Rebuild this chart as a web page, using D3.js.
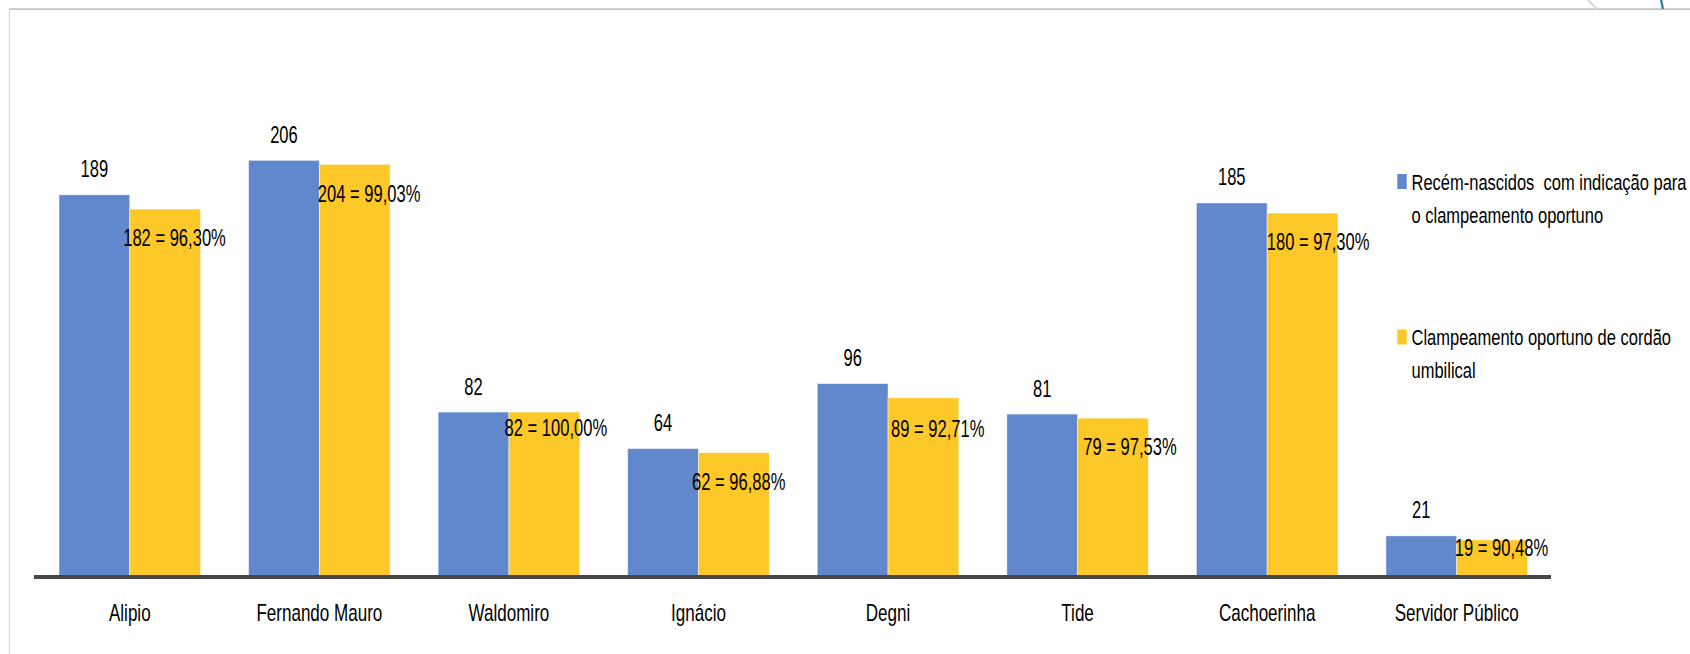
<!DOCTYPE html>
<html>
<head>
<meta charset="utf-8">
<script src="https://cdn.jsdelivr.net/npm/d3@7"></script>
<style>
  html, body { margin: 0; padding: 0; background: #fff; }
  svg { display: block; }
  text { font-family: "Liberation Sans", Arial, sans-serif; fill: #000; white-space: pre; }
</style>
</head>
<body>
<svg id="chart" width="1690" height="654"></svg>
<script>
// ---- data ----
const categories = ["Alipio", "Fernando Mauro", "Waldomiro", "Ignácio", "Degni", "Tide", "Cachoerinha", "Servidor Público"];
const indicados = [189, 206, 82, 64, 96, 81, 185, 21];
const clampeados = [182, 204, 82, 62, 89, 79, 180, 19];
const percentuais = ["96,30%", "99,03%", "100,00%", "96,88%", "92,71%", "97,53%", "97,30%", "90,48%"];
const seriesNames = ["Recém-nascidos  com indicação para o clampeamento oportuno", "Clampeamento oportuno de cordão umbilical"];
const legendLines = [["Recém-nascidos  com indicação para", "o clampeamento oportuno"], ["Clampeamento oportuno de cordão", "umbilical"]];

// ---- layout (label nudges for the yellow series, per category) ----
const yellowLabelDx = [-6.6, -1.6, -4.4, -6.5, 3, 5.6, -0.4, -2];
const yellowLabelDy = [37.2, 37.8, 24.2, 37.5, 39.2, 37.2, 37.2, 16.5];

const colors = ["#6187cc", "#ffc829"];
const svg = d3.select("#chart");

// frame decorations
svg.append("line").attr("x1", 9).attr("x2", 1690).attr("y1", 9.2).attr("y2", 9.2)
  .attr("stroke", "#c4c4c4").attr("stroke-width", 1.8);
svg.append("line").attr("x1", 9.3).attr("x2", 9.3).attr("y1", 9).attr("y2", 654)
  .attr("stroke", "#cfcfcf").attr("stroke-width", 1);
svg.append("line").attr("x1", 1588).attr("y1", 0).attr("x2", 1597).attr("y2", 9)
  .attr("stroke", "#dedede").attr("stroke-width", 2.5);
svg.append("line").attr("x1", 1661).attr("y1", 0).attr("x2", 1663).attr("y2", 9)
  .attr("stroke", "#2a7a9c").attr("stroke-width", 2.2);

const x0 = d3.scaleBand().domain(categories).range([35, 1551.5])
  .paddingInner(0.2532).paddingOuter(0.1266);
const x1 = d3.scaleBand().domain([0, 1]).range([0, x0.bandwidth()]);
const y = d3.scaleLinear().domain([0, 250]).range([578.5, 71]);

const rows = categories.map((c, i) => ({ c, i, vals: [indicados[i], clampeados[i]] }));

const g = svg.append("g");
const groups = g.selectAll("g.grp").data(rows).join("g")
  .attr("class", "grp")
  .attr("transform", d => `translate(${x0(d.c)},0)`);

groups.selectAll("rect").data(d => d.vals.map((v, s) => ({ v, s })))
  .join("rect")
  .attr("x", d => x1(d.s))
  .attr("y", d => y(d.v))
  .attr("width", x1.bandwidth())
  .attr("height", d => y(0) - y(d.v))
  .attr("fill", d => colors[d.s])
  .attr("stroke", "#ffffff")
  .attr("stroke-opacity", 0.6)
  .attr("stroke-width", 0.8);

// axis baseline
const xAxis = d3.axisBottom(x0).tickSize(0).tickPadding(0);
const axG = svg.append("g").attr("transform", `translate(0,577)`).call(xAxis);
axG.select(".domain").attr("d", `M34,0H1551`).attr("stroke", "#474747").attr("stroke-width", 4);
axG.selectAll(".tick text").remove();
axG.selectAll(".tick").each(function(d) {
  d3.select(this).append("text")
    .attr("text-anchor", "middle")
    .attr("transform", "translate(0,43.5) scale(0.71,1)")
    .style("font-size", "24px")
    .text(d);
});

// blue value labels
const sx = 0.72;
g.selectAll("text.blue").data(rows).join("text")
  .attr("class", "blue")
  .attr("text-anchor", "middle")
  .attr("transform", d => `translate(${x0(d.c) + x1(0) + x1.bandwidth() / 2},${y(indicados[d.i]) - 17.5}) scale(${sx},1)`)
  .style("font-size", "23px")
  .text(d => indicados[d.i]);

// yellow value labels
g.selectAll("text.yel").data(rows).join("text")
  .attr("class", "yel")
  .attr("text-anchor", "start")
  .attr("transform", d => `translate(${x0(d.c) + x1(1) + yellowLabelDx[d.i]},${y(clampeados[d.i]) + yellowLabelDy[d.i]}) scale(${sx},1)`)
  .style("font-size", "23px")
  .text(d => `${clampeados[d.i]} = ${percentuais[d.i]}`);

// legend
const legendTop = [174, 329.5];
const leg = svg.append("g");
legendLines.forEach((lines, s) => {
  leg.append("rect").attr("x", 1397.3).attr("y", legendTop[s]).attr("width", 9.4).attr("height", 15)
    .attr("fill", colors[s]);
  lines.forEach((ln, k) => {
    leg.append("text")
      .attr("transform", `translate(1411.5,${legendTop[s] + 15.5 + k * 33.4}) scale(0.75,1)`)
      .style("font-size", "22px")
      .text(ln);
  });
});
</script>
</body>
</html>
